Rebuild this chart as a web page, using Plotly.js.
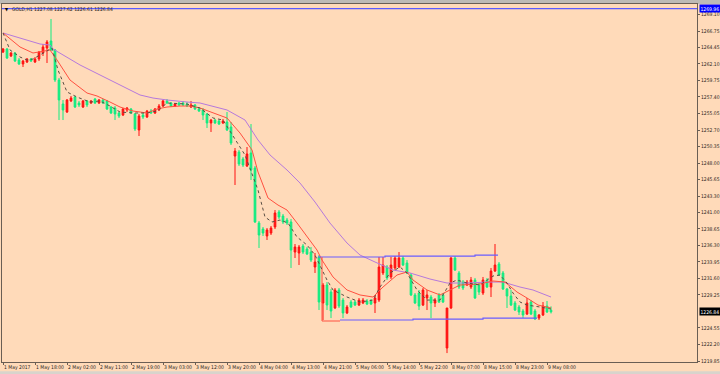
<!DOCTYPE html>
<html>
<head>
<meta charset="utf-8">
<script src="https://cdn.plot.ly/plotly-3.0.1.min.js"></script>
<style>
html,body{margin:0;padding:0;background:#FFDAB9;}
#chart{width:720px;height:374px;}
</style>
</head>
<body>
<div id="chart"></div>
<script>
// ---- data ----
var symbolTitle = "GOLD,H1 1227.08 1227.62 1226.61 1226.84";

var opens = [1263.79,1264.22,1263.23,1263.65,1262.66,1262.09,1262.37,1262.80,1262.37,1262.80,
1263.65,1264.36,1265.36,1264.08,1259.81,1256.40,1255.26,1256.83,1257.39,1256.54,
1255.97,1256.83,1256.54,1257.11,1256.54,1256.97,1256.83,1255.97,1255.83,1255.12,
1254.83,1255.55,1255.69,1254.98,1252.70,1254.83,1254.55,1255.40,1255.12,1255.55,
1256.11,1256.83,1256.54,1256.11,1256.54,1256.54,1256.40,1255.97,1256.26,1255.69,
1255.55,1254.98,1253.70,1254.12,1253.98,1253.70,1253.84,1253.13,1249.00,1249.57,
1248.58,1247.58,1249.43,1247.30,1239.48,1238.62,1237.63,1238.05,1238.91,1241.04,
1240.47,1239.90,1239.62,1235.35,1235.21,1236.20,1235.78,1235.35,1233.22,1234.64,
1228.10,1230.66,1229.66,1227.39,1229.95,1228.52,1226.68,1228.24,1228.24,1227.81,
1228.10,1228.38,1228.38,1228.10,1228.52,1232.37,1233.22,1231.80,1233.08,1233.22,
1234.50,1233.79,1232.08,1229.24,1229.52,1227.81,1228.81,1228.95,1228.10,1229.24,
1229.24,1221.70,1227.39,1234.50,1232.37,1231.08,1230.66,1230.37,1231.37,1230.66,
1229.52,1231.37,1230.37,1232.65,1233.65,1232.37,1230.09,1229.09,1228.10,1227.53,
1226.96,1226.53,1228.24,1226.96,1225.96,1226.39,1227.67,1227.08];

var highs = [1264.36,1264.36,1263.79,1263.79,1262.94,1262.66,1262.94,1262.94,1263.08,1263.94,
1264.93,1265.50,1268.49,1264.22,1260.10,1256.97,1257.11,1257.54,1257.54,1256.83,
1256.97,1256.97,1256.97,1257.25,1257.11,1257.11,1256.97,1256.11,1256.11,1255.26,
1255.83,1255.97,1255.83,1255.12,1254.98,1255.12,1255.55,1255.69,1255.83,1256.40,
1256.97,1257.11,1256.68,1256.54,1256.68,1256.83,1256.68,1256.83,1256.40,1255.83,
1255.83,1255.12,1254.27,1254.27,1254.12,1254.27,1255.26,1253.84,1250.14,1249.86,
1248.86,1250.28,1253.55,1247.58,1239.76,1238.91,1238.76,1239.05,1241.32,1241.32,
1240.76,1240.19,1240.04,1236.49,1236.35,1236.49,1236.06,1236.06,1235.21,1234.92,
1230.94,1231.08,1230.09,1230.23,1230.23,1228.81,1227.81,1228.52,1228.52,1228.81,
1228.81,1228.67,1228.67,1229.09,1234.64,1234.64,1233.50,1234.64,1234.78,1235.35,
1234.78,1234.21,1232.37,1229.52,1229.95,1230.23,1229.95,1229.24,1228.81,1229.52,
1229.52,1227.39,1234.64,1234.78,1232.65,1231.37,1231.37,1231.80,1231.66,1230.94,
1231.80,1231.66,1233.08,1236.49,1233.93,1232.65,1230.23,1229.95,1228.38,1227.81,
1227.24,1228.81,1228.52,1227.24,1226.53,1228.24,1228.38,1227.62];

var lows = [1263.65,1262.80,1263.08,1262.37,1261.95,1261.66,1262.23,1262.37,1262.23,1262.51,
1263.23,1262.23,1263.94,1259.53,1254.12,1254.12,1255.12,1256.68,1255.83,1255.97,
1255.83,1255.97,1256.40,1256.40,1256.40,1256.40,1255.55,1254.98,1254.12,1254.41,
1254.69,1255.26,1254.98,1252.56,1251.85,1254.27,1254.41,1254.98,1254.98,1255.40,
1255.97,1256.40,1255.97,1255.97,1256.11,1256.11,1255.97,1255.83,1255.55,1255.26,
1254.12,1252.99,1252.42,1253.55,1253.41,1253.55,1252.56,1250.57,1244.88,1247.58,
1247.44,1247.44,1245.59,1239.48,1235.92,1237.63,1237.06,1237.77,1238.62,1240.04,
1239.33,1239.19,1233.08,1234.50,1233.50,1235.07,1234.92,1233.93,1232.37,1227.10,
1225.68,1227.10,1225.96,1227.24,1227.39,1225.96,1226.53,1227.39,1227.67,1227.67,
1227.95,1227.81,1227.81,1226.68,1228.24,1232.08,1231.37,1231.51,1232.79,1233.08,
1233.36,1232.22,1229.09,1227.95,1227.10,1227.67,1227.10,1225.96,1227.53,1228.10,
1228.10,1220.98,1227.24,1232.65,1230.09,1229.95,1230.52,1230.09,1228.67,1229.24,
1229.24,1230.23,1228.95,1232.51,1231.94,1229.95,1227.39,1227.67,1226.96,1226.39,
1225.96,1226.39,1226.39,1225.68,1225.68,1226.25,1226.68,1226.61];

var closes = [1264.22,1262.94,1263.65,1262.51,1262.09,1262.51,1262.80,1262.51,1262.80,1263.79,
1264.51,1265.22,1264.08,1259.81,1256.97,1255.55,1256.97,1257.25,1255.97,1256.26,
1256.83,1256.26,1256.83,1256.54,1256.97,1256.54,1255.69,1255.12,1254.98,1254.69,
1255.69,1255.83,1255.12,1252.84,1254.69,1254.55,1255.40,1255.12,1255.69,1256.11,
1256.83,1256.54,1256.11,1256.40,1256.26,1256.26,1256.11,1256.26,1255.69,1255.40,
1254.83,1253.70,1254.12,1253.70,1253.55,1253.98,1252.70,1250.85,1249.71,1247.87,
1247.72,1249.29,1247.01,1239.62,1237.77,1238.05,1238.48,1238.76,1240.90,1240.33,
1239.62,1239.48,1235.63,1236.06,1236.06,1235.35,1235.07,1234.21,1233.93,1228.24,
1230.66,1227.81,1226.96,1229.95,1227.67,1226.68,1227.53,1227.53,1227.81,1228.52,
1228.52,1227.95,1227.95,1228.81,1233.22,1233.50,1231.66,1233.50,1234.50,1234.50,
1233.50,1232.37,1229.24,1228.10,1227.67,1229.95,1229.24,1228.10,1228.52,1228.24,
1228.24,1227.39,1234.50,1232.79,1230.37,1230.23,1231.08,1231.37,1228.81,1229.66,
1231.37,1230.37,1232.65,1233.50,1232.08,1230.09,1229.09,1227.81,1227.10,1226.82,
1226.39,1228.10,1226.53,1225.82,1226.39,1227.67,1226.82,1226.84];

// moving averages read at points along each line (bar index, price)
var maFastX = [0,1.75,4.25,6,7.5,10,12.25,13.75,16,18.5,21.75,24.25,26.75,29.25,32.5,36,38.5,41,46,49.25,52.5,55,58.5,60.5,63.75,65.5,67.25,69.25,71.25,73.5,76,78,81,82.5,86,89.25,92.5,94.25,96.75,99.25,101,103.5,106,109.25,111.75,113.5,116,119.25,122.5,124.25,126,127.5,129.25,131,134.25,137];
var maFastY = [1266.50,1264.08,1263.08,1262.66,1262.80,1263.65,1264.36,1261.23,1258.11,1257.39,1256.68,1256.83,1256.11,1255.26,1255.12,1255.12,1255.40,1256.54,1256.40,1255.83,1254.41,1254.12,1250.85,1249.15,1244.17,1240.33,1239.62,1239.90,1239.48,1237.48,1236.35,1234.92,1231.37,1229.95,1228.95,1228.24,1228.52,1230.37,1232.37,1233.22,1232.37,1229.95,1228.52,1228.52,1230.94,1231.37,1230.94,1230.66,1231.94,1232.08,1230.94,1229.52,1228.24,1227.81,1227.53,1227.24];

var maMidX = [0,4.25,7.5,11.75,13.5,16.75,21,23.5,26.75,29.25,32.5,36,38.5,41,44.25,46.75,49.25,52.5,56,59.25,62.25,63.75,66.25,68.75,71,73.5,76,78.5,79.75,82.5,86,89.25,92.5,95,98.5,101,102.5,106,109.25,111.75,114.25,119.25,122.5,125.5,128.5,131,133.75,137];
var maMidY = [1266.50,1264.51,1263.65,1264.08,1262.66,1259.81,1257.96,1257.54,1256.68,1255.97,1255.40,1255.12,1255.69,1255.97,1256.11,1256.11,1255.83,1255.12,1254.41,1252.27,1249.86,1246.73,1243.03,1242.03,1241.32,1239.48,1237.48,1235.63,1234.21,1231.80,1229.95,1229.24,1228.95,1230.37,1232.08,1232.51,1231.37,1229.95,1229.24,1229.95,1230.66,1230.80,1231.23,1231.08,1229.66,1228.81,1227.81,1227.39];

var maSlowX = [0,9.25,11.75,12.5,19.25,24.25,29.25,34.25,37.5,41,46,49.25,56,60.5,63.75,66.75,71,74.25,78,81.75,86,89.25,93,97.5,101.75,106.75,111,116,121,125,129.25,132.5,137];
var maSlowY = [1266.50,1264.93,1264.79,1264.22,1261.95,1260.52,1259.10,1257.68,1257.25,1256.97,1256.68,1256.54,1255.55,1254.12,1251.28,1249.15,1247.01,1245.16,1242.46,1239.47,1236.63,1234.92,1233.93,1232.79,1232.37,1231.51,1230.94,1230.94,1231.08,1231.08,1230.37,1229.95,1228.95];

// channel / box lines
var chanTopX = [78.75,95.5,118,123.75];
var chanTopY = [1234.64,1234.78,1234.92,1234.92];
var chanBotX = [84.25,102.5,120,133.5];
var chanBotY = [1225.68,1225.82,1225.96,1225.96];
var boxX = [79.75,79.75,84.25];
var boxY = [1234.64,1225.54,1225.54];
var topLevel = 1269.96;
var lastPrice = 1226.84;

var priceTicks = [1269.10,1266.75,1264.45,1262.10,1259.75,1257.40,1255.05,1252.70,1250.35,1248.00,1245.65,1243.30,1241.00,1238.65,1236.30,1233.95,1231.60,1229.25,1224.55,1222.20,1219.85];
var timeLabels = ["1 May 2017","1 May 18:00","2 May 02:00","2 May 11:00","2 May 19:00","3 May 03:00","3 May 12:00","3 May 20:00","4 May 04:00","4 May 13:00","4 May 21:00","5 May 06:00","5 May 14:00","5 May 22:00","8 May 07:00","8 May 15:00","8 May 23:00","9 May 08:00"];
var timeLabelBars = [0,8,16,24,32,40,48,56,64,72,80,88,96,104,112,120,128,136];

// ---- chart ----
var bars = opens.map(function(_, i){ return i; });
var FONT = "Liberation Sans Narrow, DejaVu Sans Condensed, Arial Narrow, sans-serif";
var FG = "#2b2622";
var FRAME = "#6a5e54";
var FS = 5;

var traces = [
  {type:"scatter", mode:"lines", x:maSlowX, y:maSlowY, line:{color:"#b679dc", width:1}, hoverinfo:"skip"},
  {type:"scatter", mode:"lines", x:maMidX, y:maMidY, line:{color:"#ff5040", width:1}, hoverinfo:"skip"},
  {type:"scatter", mode:"lines", x:chanTopX, y:chanTopY, line:{color:"#6a5cff", width:1.2, shape:"hv"}, hoverinfo:"skip"},
  {type:"scatter", mode:"lines", x:chanBotX, y:chanBotY, line:{color:"#6a5cff", width:1.2, shape:"hv"}, hoverinfo:"skip"},
  {type:"scatter", mode:"lines", x:boxX, y:boxY, line:{color:"#ff5040", width:1}, hoverinfo:"skip"},
  {type:"candlestick", x:bars, open:opens, high:highs, low:lows, close:closes,
    increasing:{line:{color:"#ff1010", width:1}, fillcolor:"#ff1010"},
    decreasing:{line:{color:"#10ec80", width:1}, fillcolor:"#10ec80"},
    whiskerwidth:0, hoverinfo:"skip"},
  {type:"scatter", mode:"lines", x:maFastX, y:maFastY, line:{color:"#5a4e44", width:1, dash:"dot"}, hoverinfo:"skip"},
  {type:"scatter", mode:"lines", x:[-0.25,173.5], y:[topLevel, topLevel], line:{color:"#5a5aff", width:1.2}, hoverinfo:"skip"}
];

var layout = {
  width:720, height:374,
  margin:{l:2, r:23, t:4, b:12, pad:0},
  paper_bgcolor:"#FFDAB9", plot_bgcolor:"#FFDAB9",
  showlegend:false,
  boxgap:0.4,
  font:{family:FONT, size:FS, color:FG},
  xaxis:{
    range:[-0.25,173.5], showgrid:false, zeroline:false,
    showline:true, mirror:true, linecolor:FRAME, linewidth:1,
    tickmode:"array", tickvals:timeLabelBars, ticktext:timeLabels,
    ticks:"outside", ticklen:2, tickcolor:FRAME, tickwidth:1,
    tickangle:0, automargin:false,
    ticklabelposition:"outside right",
    tickfont:{family:FONT, size:FS, color:FG},
    rangeslider:{visible:false}, fixedrange:true
  },
  yaxis:{
    side:"right", range:[1219.71,1270.62], showgrid:false, zeroline:false,
    showline:true, mirror:true, linecolor:FRAME, linewidth:1,
    tickmode:"array", tickvals:priceTicks, ticktext:priceTicks.map(function(v){return v.toFixed(2);}),
    ticks:"outside", ticklen:2, tickcolor:FRAME, tickwidth:1, automargin:false,
    tickfont:{family:FONT, size:FS, color:FG}, fixedrange:true
  },
  shapes:[
    {type:"rect", xref:"paper", yref:"paper", x0:-0.01, x1:1.05, y0:1.0, y1:1.02, fillcolor:"#bdbab6", line:{width:0}, layer:"below"},
    {type:"rect", xref:"paper", yref:"paper", x0:-0.01, x1:1.05, y0:-0.034, y1:-0.026, fillcolor:"#d8d4cc", line:{width:0}, layer:"below"}
  ],
  annotations:[
    {xref:"paper", yref:"paper", x:0, y:1, xanchor:"left", yanchor:"top", xshift:1, yshift:-1, text:"▼", showarrow:false, font:{family:FONT, size:4.5, color:"#000"}},
    {xref:"paper", yref:"paper", x:0, y:1, xanchor:"left", yanchor:"top", xshift:8, yshift:0, text:symbolTitle, showarrow:false, font:{family:FONT, size:FS, color:FG}},
    {xref:"paper", yref:"y", x:1, y:topLevel, xanchor:"left", yanchor:"middle", xshift:2, text:topLevel.toFixed(2), showarrow:false, bgcolor:"#0000ff", borderpad:0.5, font:{family:FONT, size:FS, color:"#ffffff"}},
    {xref:"paper", yref:"y", x:1, y:lastPrice, xanchor:"left", yanchor:"middle", xshift:2, text:lastPrice.toFixed(2), showarrow:false, bgcolor:"#000000", borderpad:0.5, font:{family:FONT, size:FS, color:"#ffffff"}}
  ]
};

Plotly.newPlot("chart", traces, layout, {staticPlot:true, displayModeBar:false});
</script>
</body>
</html>
